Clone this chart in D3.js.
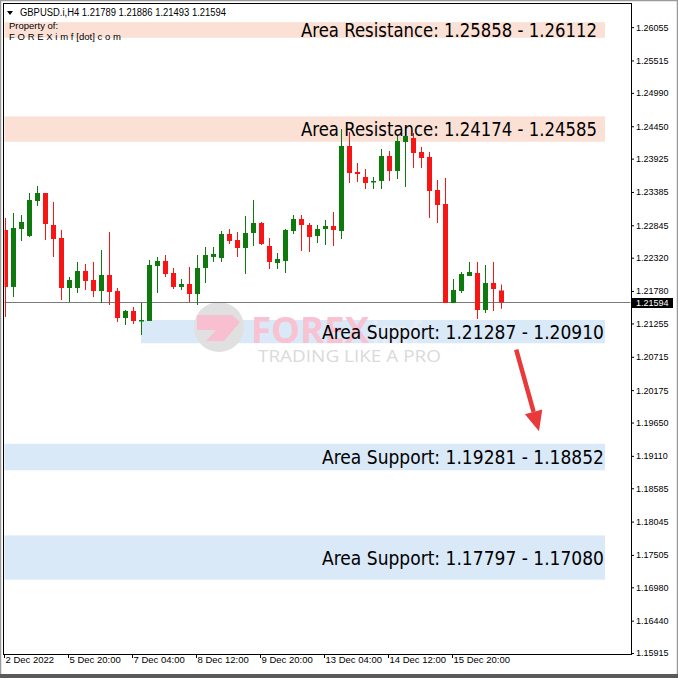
<!DOCTYPE html>
<html><head><meta charset="utf-8">
<script src="https://cdn.jsdelivr.net/npm/d3@7"></script>
<style>body{margin:0;background:#fff}svg{display:block}</style>
</head><body><svg id="c" width="678" height="678"></svg>
<script>
// ---- data ----
const symbol = "GBPUSD.i,H4";
const lastOHLC = [1.21789, 1.21886, 1.21493, 1.21594];
const opens = [1.22769,1.21846,1.22785,1.22672,1.23239,1.23368,1.22850,1.22639,1.21829,1.21829,1.22105,1.21959,1.21781,1.22040,1.21781,1.21343,1.21457,1.21295,1.21295,1.22186,1.22267,1.22072,1.21846,1.21894,1.21732,1.22153,1.22332,1.22315,1.22704,1.22607,1.22477,1.22720,1.22882,1.22510,1.22234,1.22267,1.22753,1.22947,1.22850,1.22672,1.22785,1.22834,1.22753,1.24130,1.23709,1.23628,1.23547,1.23563,1.23968,1.23725,1.24195,1.24259,1.24033,1.23952,1.23417,1.23190,1.21586,1.21781,1.22024,1.22072,1.21473,1.21910,1.21789];
const highs = [1.22963,1.23044,1.23012,1.23368,1.23482,1.23368,1.23223,1.22769,1.22008,1.22251,1.22218,1.22251,1.22445,1.22737,1.21829,1.21473,1.21522,1.21586,1.22283,1.22332,1.22364,1.22153,1.21975,1.22170,1.22364,1.22494,1.22494,1.22753,1.22785,1.22737,1.22996,1.23255,1.22899,1.22639,1.22396,1.22785,1.23012,1.23012,1.22882,1.22850,1.22931,1.23061,1.24405,1.24357,1.23854,1.23757,1.23628,1.24081,1.24049,1.24292,1.24438,1.24340,1.24114,1.24033,1.23579,1.23611,1.21975,1.22089,1.22251,1.22251,1.22202,1.22251,1.21886];
const lows = [1.21360,1.21684,1.22591,1.22656,1.23158,1.22607,1.22332,1.21635,1.21603,1.21748,1.21797,1.21684,1.21586,1.21554,1.21279,1.21230,1.21246,1.21068,1.21295,1.21748,1.22008,1.21813,1.21797,1.21603,1.21554,1.21910,1.22251,1.22251,1.22542,1.22332,1.22056,1.22510,1.22526,1.22137,1.22137,1.22072,1.22704,1.22429,1.22413,1.22558,1.22526,1.22510,1.22623,1.23530,1.23547,1.23433,1.23433,1.23433,1.23563,1.23595,1.23466,1.23773,1.23773,1.22963,1.22882,1.21586,1.21586,1.21748,1.22024,1.21327,1.21424,1.21457,1.21493];
const closes = [1.21846,1.22801,1.22899,1.23255,1.23368,1.22866,1.22623,1.21829,1.21959,1.22105,1.21943,1.21781,1.22040,1.21765,1.21343,1.21457,1.21295,1.21311,1.22202,1.22267,1.22056,1.21846,1.21894,1.21732,1.22153,1.22364,1.22380,1.22704,1.22591,1.22477,1.22720,1.22882,1.22542,1.22251,1.22299,1.22769,1.22947,1.22850,1.22656,1.22785,1.22834,1.22769,1.24130,1.23692,1.23676,1.23530,1.23563,1.23968,1.23725,1.24211,1.24292,1.24016,1.23935,1.23401,1.23174,1.21586,1.21797,1.22056,1.22089,1.21473,1.21910,1.21813,1.21594];
const timeTickBars = [0, 8, 16, 24, 32, 40, 48, 56];
const timeTickLabels = ["2 Dec 2022","5 Dec 20:00","7 Dec 04:00","8 Dec 12:00","9 Dec 20:00","13 Dec 04:00","14 Dec 12:00","15 Dec 20:00"];
const priceTicks = [1.26055,1.25515,1.24990,1.24450,1.23925,1.23385,1.22845,1.22320,1.21780,1.21255,1.20715,1.20175,1.19650,1.19110,1.18585,1.18045,1.17505,1.16980,1.16440,1.15915];
const zoneKinds = ["Area Resistance","Area Resistance","Area Support","Area Support","Area Support"];
const zoneFirst = [1.25858, 1.24174, 1.21287, 1.19281, 1.17797];
const zoneSecond = [1.26112, 1.24585, 1.20910, 1.18852, 1.17080];
const zoneStartBar = [-2, -2, 17, -2, -2];
const zoneEndBar = 75;
const arrowFrom = [63.9, 1.2083];
const arrowTo = [66.75, 1.1951];

// ---- layout ----
const svg = d3.select("#c");
const L = 4, R = 631, T = 4, B = 654;
const x = d3.scaleLinear().domain([0, 62]).range([5, 501]);
const y = d3.scaleLinear().domain([1.15900, 1.26430]).range([B, T]);
const GREEN = "#0e7a0e", RED = "#f71515";
const zoneShift = -1.5; // hand-drawn rectangles sit slightly above the price scale

svg.append("rect").attr("width", 678).attr("height", 678).attr("fill", "#fff");
svg.append("defs").append("clipPath").attr("id", "plot")
  .append("rect").attr("x", L + 0.5).attr("y", T + 0.5).attr("width", R - L - 1).attr("height", B - T - 1);

const plot = svg.append("g").attr("clip-path", "url(#plot)");

// zones
const zones = zoneKinds.map((k, i) => ({k, a: zoneFirst[i], b: zoneSecond[i], s: zoneStartBar[i]}));
plot.selectAll("rect.zone").data(zones).join("rect")
  .attr("class", "zone")
  .attr("x", d => x(d.s))
  .attr("width", d => x(zoneEndBar) - x(d.s))
  .attr("y", d => y(Math.max(d.a, d.b)) + zoneShift)
  .attr("height", d => Math.abs(y(d.a) - y(d.b)))
  .attr("fill", d => d.k.includes("Resistance") ? "#fbe1d5" : "#dae9f8");

// watermark
const wm = plot.append("g");
wm.append("circle").attr("cx", 219).attr("cy", 327).attr("r", 25).attr("fill", "#e0e0e0");
wm.append("path").attr("d", "M197,315 L232,315 L240,322 L224,341 L206,341 L216,330 L197,330 Z").attr("fill", "#f7bfd0");
wm.append("text").attr("x", 251).attr("y", 343).attr("font-family", "Open Sans, DejaVu Sans, sans-serif")
  .attr("font-weight", "bold").attr("font-size", 35).attr("fill", "#f8c2d1").attr("textLength", 118)
  .attr("lengthAdjust", "spacingAndGlyphs").text("FOREX");
wm.append("text").attr("x", 371).attr("y", 343).attr("font-family", "Open Sans, DejaVu Sans, sans-serif")
  .attr("font-weight", "bold").attr("font-size", 30).attr("fill", "#e9eef5").attr("opacity", 0.8).text("imf");
wm.append("text").attr("x", 258).attr("y", 362).attr("font-family", "Open Sans, DejaVu Sans, sans-serif")
  .attr("font-size", 16).attr("fill", "#dadada").attr("textLength", 183)
  .attr("lengthAdjust", "spacingAndGlyphs").text("TRADING LIKE A PRO");

// price line
const py = Math.round(y(lastOHLC[3])) - 0.5;
plot.append("line").attr("x1", L).attr("x2", R).attr("y1", py).attr("y2", py).attr("stroke", "#7a7a7a").attr("stroke-width", 1);

// candles
const bars = opens.map((o, i) => ({i, o, h: highs[i], l: lows[i], c: closes[i]}));
const cg = plot.selectAll("g.bar").data(bars).join("g").attr("class", "bar")
  .attr("fill", d => d.c >= d.o ? GREEN : RED);
cg.append("rect").attr("x", d => Math.round(x(d.i))).attr("width", 1)
  .attr("y", d => y(d.h)).attr("height", d => Math.max(1, y(d.l) - y(d.h)));
cg.append("rect").attr("x", d => Math.round(x(d.i)) - 2).attr("width", 5)
  .attr("y", d => y(Math.max(d.o, d.c)))
  .attr("height", d => Math.max(1.5, Math.abs(y(d.o) - y(d.c))));

// zone labels
plot.selectAll("text.zl").data(zones).join("text").attr("class", "zl")
  .attr("x", d => x(zoneEndBar) - (d.k.includes("Resistance") ? 8 : 1))
  .attr("y", d => (y(d.a) + y(d.b)) / 2 + zoneShift + 7)
  .attr("text-anchor", "end")
  .attr("font-family", "DejaVu Sans, Verdana, sans-serif").attr("font-size", 19).attr("fill", "#000")
  .attr("textLength", d => d.k.includes("Resistance") ? 296 : 282).attr("lengthAdjust", "spacingAndGlyphs")
  .text(d => `${d.k}: ${d.a.toFixed(5)} - ${d.b.toFixed(5)}`);

// arrow
const ax1 = x(arrowFrom[0]), ay1 = y(arrowFrom[1]), ax2 = x(arrowTo[0]), ay2 = y(arrowTo[1]);
const ang = Math.atan2(ay2 - ay1, ax2 - ax1);
const headLen = 20, headW = 9;
const bx = ax2 - headLen * Math.cos(ang), by = ay2 - headLen * Math.sin(ang);
svg.append("line").attr("x1", ax1).attr("y1", ay1).attr("x2", bx).attr("y2", by)
  .attr("stroke", "#e8393b").attr("stroke-width", 4.5);
svg.append("path").attr("fill", "#e8393b").attr("d",
  `M${ax2},${ay2} L${bx + headW * Math.sin(ang)},${by - headW * Math.cos(ang)} L${bx - headW * Math.sin(ang)},${by + headW * Math.cos(ang)} Z`);

// header
const hdr = svg.append("g").attr("font-family", "Liberation Sans, Arial, sans-serif").attr("fill", "#000");
hdr.append("path").attr("d", "M7,11 L13,11 L10,15 Z").attr("fill", "#000");
hdr.append("text").attr("x", 20).attr("y", 16).attr("font-size", 10).attr("textLength", 206)
  .attr("lengthAdjust", "spacingAndGlyphs")
  .text(`${symbol}  ${lastOHLC.map(v => v.toFixed(5)).join(" ")}`);
hdr.append("text").attr("x", 9).attr("y", 29).attr("font-size", 9.5).text("Property of:");
hdr.append("text").attr("x", 9).attr("y", 40).attr("font-size", 9.5).attr("textLength", 112).text("F O R E X i m f [dot] c o m");

// frame
svg.append("rect").attr("x", L - 0.5).attr("y", T - 0.5).attr("width", R - L + 1).attr("height", B - T + 1)
  .attr("fill", "none").attr("stroke", "#000").attr("stroke-width", 1);
svg.append("rect").attr("x", 0.5).attr("y", 0.5).attr("width", 677).attr("height", 677)
  .attr("fill", "none").attr("stroke", "#9a9a9a").attr("stroke-width", 1.5);
svg.append("rect").attr("x", 0).attr("y", 674).attr("width", 678).attr("height", 4).attr("fill", "#5a5a5a");

// right axis
const yAxis = d3.axisRight(y).tickValues(priceTicks).tickSize(3).tickPadding(2).tickFormat(d3.format(".5f"));
const ya = svg.append("g").attr("transform", `translate(${R},0)`).call(yAxis);
ya.select(".domain").remove();
ya.selectAll("text").attr("font-family", "Liberation Sans, Arial, sans-serif").attr("font-size", 9).attr("fill", "#000");
ya.selectAll("line").attr("stroke", "#000");

// current price tag
const tag = svg.append("g");
tag.append("rect").attr("x", 632).attr("y", py - 4.5).attr("width", 41).attr("height", 10).attr("fill", "#000");
tag.append("text").attr("x", 636).attr("y", py + 3.5).attr("fill", "#fff")
  .attr("font-family", "Liberation Sans, Arial, sans-serif").attr("font-size", 9).text(lastOHLC[3].toFixed(5));

// bottom axis
const xAxis = d3.axisBottom(x).tickValues(timeTickBars).tickSize(4).tickFormat((d, i) => timeTickLabels[i]);
const xa = svg.append("g").attr("transform", `translate(0,${B})`).call(xAxis);
xa.select(".domain").remove();
xa.selectAll("line").attr("stroke", "#000").attr("transform", "translate(-1,0)");
xa.selectAll("text").attr("text-anchor", "start").attr("x", 0).attr("dy", "0.2em")
  .attr("font-family", "Liberation Sans, Arial, sans-serif").attr("font-size", 9.5).attr("fill", "#000");
</script></body></html>
